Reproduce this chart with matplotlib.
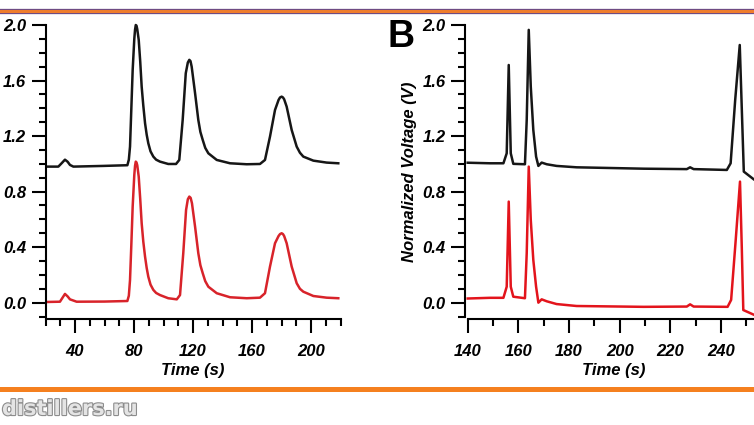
import matplotlib.pyplot as plt
import matplotlib.patheffects as pe
from matplotlib.ticker import MultipleLocator, FormatStrFormatter

# Panel A traces (time in s, normalized voltage in V)
a_black_t = [20.8, 28.7, 31.0, 33.2, 35.0, 36.6, 38.9, 59.2, 75.5, 76.5, 77.3, 78.2, 79.1, 80.2, 80.7, 81.2,
             81.7, 82.2, 83.2, 84.2, 85.2, 86.3, 87.5, 88.6, 89.7, 91.2, 93.1, 95.0, 97.6, 103.2, 108.5,
             110.7, 113.0, 115.1, 116.5, 117.5, 118.3, 119.1, 121.4, 123.6, 125.0, 126.6, 128.3, 130.4,
             136.1, 145.1, 156.4, 165.4, 168.8, 172.2, 175.6, 178.0, 179.0, 180.1, 181.0, 181.8, 183.5,
             186.9, 190.3, 192.5, 194.8, 201.6, 210.6, 218.5]
a_black_v = [0.98, 0.98, 1.005, 1.03, 1.015, 0.992, 0.98, 0.985, 0.99, 1.03, 1.124, 1.40, 1.676, 1.90, 1.965, 2.0,
             1.995, 1.97, 1.893, 1.74, 1.556, 1.42, 1.292, 1.21, 1.148, 1.09, 1.052, 1.03, 1.016, 0.999, 0.999,
             1.028, 1.316, 1.653, 1.73, 1.749, 1.74, 1.70, 1.509, 1.316, 1.23, 1.172, 1.115, 1.076,
             1.028, 1.004, 0.997, 0.999, 1.028, 1.196, 1.388, 1.46, 1.478, 1.484, 1.478, 1.465, 1.412,
             1.244, 1.124, 1.08, 1.052, 1.023, 1.009, 1.004]

a_red_t = [20.8, 29.8, 31.5, 33.2, 35.0, 36.6, 41.1, 60.0, 75.5, 76.5, 77.3, 78.2, 79.1, 80.2, 80.7, 81.2,
           81.7, 82.2, 83.2, 84.2, 85.2, 86.3, 87.5, 88.6, 89.7, 91.2, 93.1, 95.0, 97.6, 103.2, 109.0,
           111.2, 113.4, 115.3, 116.5, 117.5, 118.4, 119.3, 121.4, 123.6, 125.0, 126.6, 128.3, 130.4,
           136.1, 145.1, 156.4, 165.4, 168.8, 172.2, 175.6, 178.0, 179.0, 180.1, 181.0, 181.8, 183.5,
           186.9, 190.3, 192.5, 194.8, 201.6, 210.6, 218.5]
a_red_v = [0.005, 0.007, 0.035, 0.063, 0.045, 0.024, 0.007, 0.008, 0.012, 0.05, 0.163, 0.42, 0.692, 0.92, 0.985, 1.016,
           1.01, 0.99, 0.908, 0.75, 0.572, 0.44, 0.331, 0.25, 0.187, 0.13, 0.092, 0.07, 0.055, 0.032, 0.024,
           0.055, 0.356, 0.668, 0.745, 0.764, 0.755, 0.716, 0.548, 0.356, 0.27, 0.212, 0.155, 0.115,
           0.068, 0.039, 0.032, 0.036, 0.068, 0.26, 0.428, 0.48, 0.494, 0.5, 0.494, 0.48, 0.428,
           0.26, 0.14, 0.10, 0.079, 0.048, 0.036, 0.032]

# Panel B traces
b_black_t = [140.0, 148.8, 154.1, 155.4, 156.2, 157.0, 158.0, 162.6, 163.3, 164.1, 164.9, 165.9, 167.0,
             167.9, 169.2, 171.2, 175.1, 183.0, 209.5, 226.5, 227.8, 229.2, 242.3, 243.8, 245.6, 247.4,
             248.2, 249.0, 253.1, 255.0]
b_black_v = [1.008, 1.004, 1.004, 1.076, 1.712, 1.076, 1.0, 0.997, 1.316, 1.965, 1.556, 1.244, 1.052,
             0.985, 1.009, 0.997, 0.985, 0.975, 0.965, 0.962, 0.975, 0.962, 0.956, 1.004, 1.46, 1.856,
             1.40, 0.944, 0.886, 0.875]

b_red_t = [140.0, 148.8, 154.1, 155.4, 156.2, 157.0, 158.0, 162.6, 163.3, 164.1, 164.9, 165.9, 167.0,
           167.9, 169.2, 171.2, 175.1, 183.0, 209.5, 226.5, 227.8, 229.2, 242.6, 244.0, 245.8, 247.5,
           248.2, 248.8, 253.1, 255.0]
b_red_v = [0.03, 0.035, 0.035, 0.115, 0.728, 0.115, 0.043, 0.032, 0.356, 0.98, 0.596, 0.308, 0.115,
           0.0, 0.024, 0.01, -0.01, -0.024, -0.03, -0.028, -0.012, -0.028, -0.03, 0.02, 0.45, 0.872,
           0.40, -0.053, -0.088, -0.095]

W, H = 754, 425
fig = plt.figure(figsize=(W / 100, H / 100), dpi=100)

lab = dict(family='Liberation Sans', weight='bold', style='italic', size=12)


def style_axes(ax, xlim, xmajor, ylo_off):
    ax.set_xlim(*xlim)
    ax.set_ylim(-0.114, 2.0)
    for s in ['top', 'right']:
        ax.spines[s].set_visible(False)
    for s in ['left', 'bottom']:
        ax.spines[s].set_linewidth(1.5)
    ax.spines['left'].set_bounds(-0.1, 2.0)
    ax.spines['left'].set_position(('outward', ylo_off))
    ax.yaxis.set_major_locator(MultipleLocator(0.4))
    ax.yaxis.set_minor_locator(MultipleLocator(0.1))
    ax.yaxis.set_major_formatter(FormatStrFormatter('%.1f'))
    ax.xaxis.set_major_locator(MultipleLocator(xmajor))
    ax.xaxis.set_minor_locator(MultipleLocator(10))
    ax.tick_params(which='major', direction='out', length=10, width=1.5)
    ax.tick_params(which='minor', direction='out', length=5, width=1.5)
    ax.tick_params(axis='y', which='major', pad=4)
    ax.tick_params(axis='x', which='major', pad=8)
    for t in ax.get_xticklabels() + ax.get_yticklabels():
        t.set_fontfamily('Liberation Sans')
        t.set_fontweight('bold')
        t.set_fontstyle('italic')
        t.set_fontsize(12)
    ax.set_xlabel('Time (s)', labelpad=3, **lab)
    ax.patch.set_visible(False)


# panel A
axA = fig.add_axes([45.5 / W, (H - 318.5) / H, 295 / W, 293.5 / H])
axA.plot(a_black_t, a_black_v, color='#161616', lw=1.8, clip_on=False)
axA.plot(a_red_t, a_red_v, color='#d8232a', lw=1.8, clip_on=False)
style_axes(axA, (20, 220), 40, 0)
axA.set_xticks([40, 80, 120, 160, 200])

# panel B
axB = fig.add_axes([467.7 / W, (H - 318.5) / H, 291.3 / W, 293.5 / H])
axB.plot(b_black_t, b_black_v, color='#161616', lw=1.8, clip_on=False)
axB.plot(b_red_t, b_red_v, color='#e3141c', lw=1.8, clip_on=False)
style_axes(axB, (140, 255), 20, 2)
axB.set_ylabel('Normalized Voltage (V)', labelpad=4, **lab)
fig.text(388 / W, (H - 47) / H, 'B', fontsize=27, fontweight='bold',
         family='Liberation Sans', va='baseline', ha='left')

# page decorations: top band, bottom orange rule and watermark
fig.add_artist(plt.Line2D([0, 1], [(H - 10.5) / H] * 2, color='#6b4a86', lw=3.8))
fig.add_artist(plt.Line2D([0, 1], [(H - 10.5) / H] * 2, color='#ef7d2d', lw=2.2))
fig.add_artist(plt.Line2D([0, 1], [(H - 389) / H] * 2, color='#f5801f', lw=3.6))
fig.text(2 / W, (H - 415) / H, 'distillers.ru', fontsize=15, fontweight='bold',
         family='DejaVu Sans', color='#e4e4e4', va='baseline',
         path_effects=[pe.withStroke(linewidth=1.6, foreground='#8c8c8c')])

fig.savefig('out.png', dpi=100)
